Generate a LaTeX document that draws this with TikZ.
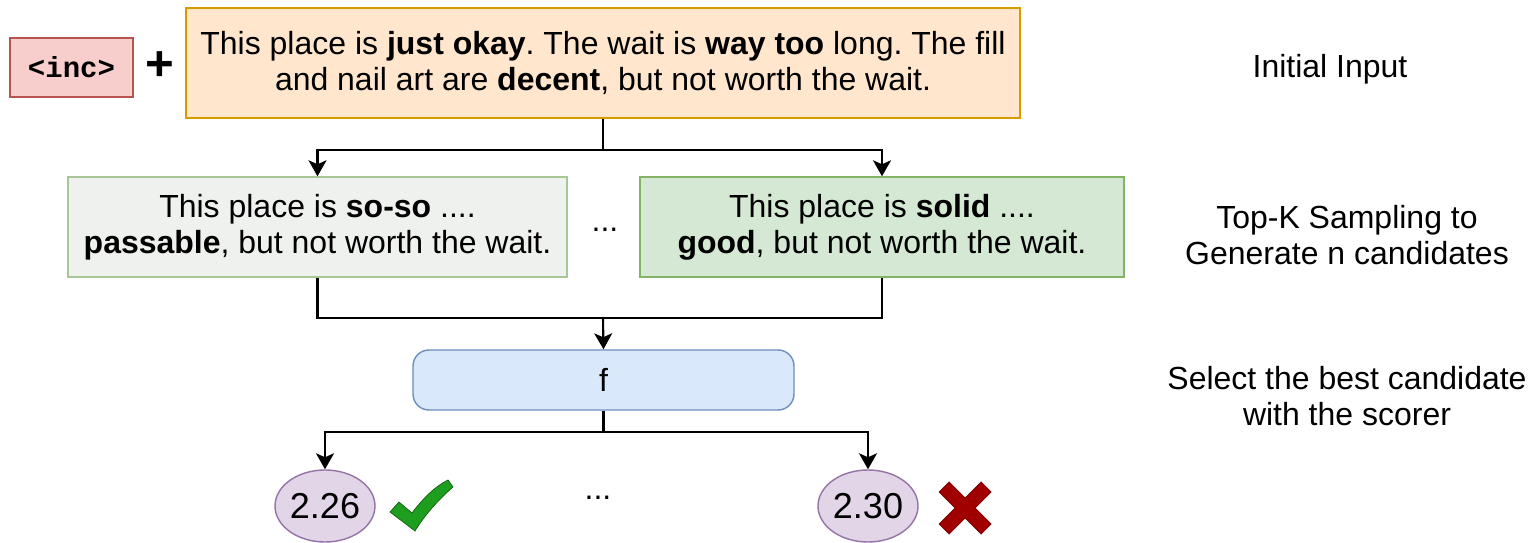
\documentclass[tikz,border=0pt]{standalone}
\usepackage{fontspec}
\setmainfont{Liberation Sans}
\setmonofont{Liberation Mono}
\usetikzlibrary{shapes.geometric, arrows.meta, positioning, calc}
\definecolor{incRed}{HTML}{F8CECC}
\definecolor{incRedLine}{HTML}{B85450}
\definecolor{inputOrange}{HTML}{FFE6CC}
\definecolor{inputOrangeLine}{HTML}{D79B00}
\definecolor{sosoGray}{HTML}{EFF1EE}
\definecolor{sosoGrayLine}{HTML}{A7C796}
\definecolor{goodGreen}{HTML}{D5E8D4}
\definecolor{goodGreenLine}{HTML}{82B366}
\definecolor{scorerBlue}{HTML}{DAE8FC}
\definecolor{scorerBlueLine}{HTML}{6C8EBF}
\definecolor{scoreLilac}{HTML}{E1D5E7}
\definecolor{scoreLilacLine}{HTML}{9673A6}
\definecolor{tickGreen}{HTML}{1E9E1E}
\definecolor{crossRed}{HTML}{A00000}
\frenchspacing

\begin{document}
\begin{tikzpicture}[
            textbox/.style={rectangle, font=\fontsize{18.2}{20.5}\selectfont, align=center, line width=0.8pt},
            score/.style={ellipse, minimum width=2.0cm, minimum height=1.44cm, inner sep=0pt,
                          fill=scoreLilac, draw=scoreLilacLine, line width=0.8pt, font=\fontsize{20.5}{22}\selectfont},
            stepnote/.style={font=\fontsize{18.2}{20.5}\selectfont, align=center},
            arrow/.style={-{Stealth[length=0.32cm, width=0.36cm, inset=0.08cm]}, line width=1.2pt},
            link/.style={line width=1.2pt}
        ]
            \useasboundingbox (0,0) rectangle (30.64,-10.86);

            % Input
            \node[textbox, fill=incRed, draw=incRedLine, minimum width=2.46cm, minimum height=1.18cm,
                  font=\fontsize{16.5}{18}\selectfont\ttfamily\bfseries] (inc) at (1.43,-1.35) {<inc>};
            \node[font=\fontsize{28}{28}\selectfont\bfseries] (plus) at (3.2,-1.32) {+};
            \node[textbox, fill=inputOrange, draw=inputOrangeLine, minimum width=16.68cm, minimum height=2.2cm] (input) at (12.06,-1.26)
                {This place is \textbf{just okay}. The wait is \textbf{way too} long. The fill\\
                 and nail art are \textbf{decent}, but not worth the wait.};

            % Candidates
            \node[textbox, fill=sosoGray, draw=sosoGrayLine, minimum width=9.98cm, minimum height=2.0cm] (soso) at (6.35,-4.54)
                {This place is \textbf{so-so} ....\\ \textbf{passable}, but not worth the wait.};
            \node[textbox, fill=goodGreen, draw=goodGreenLine, minimum width=9.68cm, minimum height=2.0cm] (good) at (17.64,-4.54)
                {This place is \textbf{solid} ....\\ \textbf{good}, but not worth the wait.};
            \node[stepnote] (dotsA) at (12.1,-4.6) {...};

            % Scorer
            \node[textbox, rounded corners=0.32cm, fill=scorerBlue, draw=scorerBlueLine, minimum width=7.62cm, minimum height=1.2cm] (scorer) at (12.07,-7.6) {f};

            % Scores
            \node[score] (sosoScore) at (6.5,-10.12) {2.26};
            \node[score] (goodScore) at (17.36,-10.12) {2.30};
            \node[stepnote] (dotsB) at (11.96,-9.96) {...};

            \coordinate (split) at (12.06,-3.0);
            \coordinate (merge) at (12.06,-6.36);
            \coordinate (fork) at (12.07,-8.64);

            \draw[link] (input.south) -- (split);
            \draw[arrow] (split) -| (soso.north);
            \draw[arrow] (split) -| (good.north);
            \draw[link] (soso.south) |- (merge);
            \draw[link] (good.south) |- (merge);
            \draw[arrow] (merge) -- (scorer.north);
            \draw[link] (scorer.south) -- (fork);
            \draw[arrow] (fork) -| (sosoScore.north);
            \draw[arrow] (fork) -| (goodScore.north);

            % Tick and cross
            \begin{scope}[shift={(8.42,-10.12)}, x=0.02cm, y=-0.02cm]
                \fill[tickGreen, draw=tickGreen!60!black, line width=0.4pt]
                    (-31,6) -- (-22,-4) -- (-9,7) .. controls (3,-9) and (15,-20) .. (27,-26)
                    -- (32,-19) .. controls (17,-6) and (3,10) .. (-6,25) -- cycle;
            \end{scope}
            \begin{scope}[shift={(19.3,-10.16)}, x=0.02cm, y=-0.02cm]
                \fill[crossRed, draw=crossRed!70!black, line width=0.4pt]
                    (-26,-16) -- (-16,-26) -- (0,-10) -- (16,-26) -- (26,-16) -- (10,0)
                    -- (26,16) -- (16,26) -- (0,10) -- (-16,26) -- (-26,16) -- (-10,0) -- cycle;
            \end{scope}

            % Labels
            \node[stepnote] (initNote) at (26.6,-1.38) {Initial Input};
            \node[stepnote] (sampleNote) at (26.94,-4.7) {Top-K Sampling to\\Generate n candidates};
            \node[stepnote] (selectNote) at (26.94,-7.92) {Select the best candidate\\with the scorer};
        \end{tikzpicture}
\end{document}
